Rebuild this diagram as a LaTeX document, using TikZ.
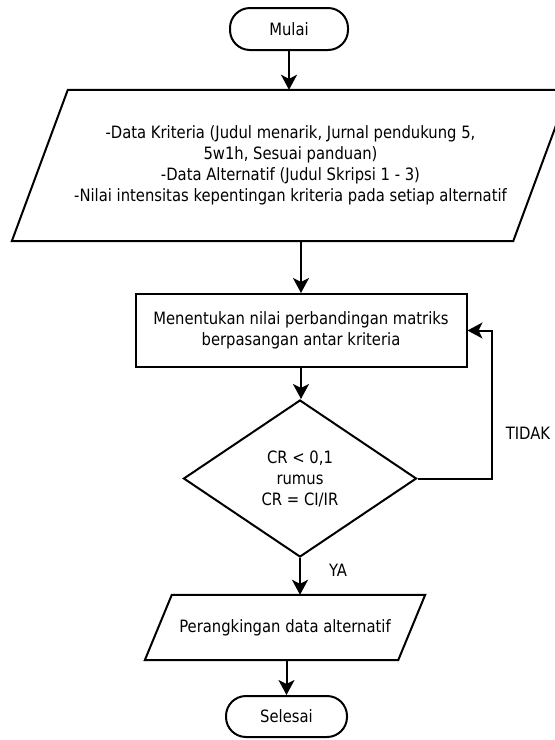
\documentclass[tikz,border=0pt]{standalone}
\usepackage{fontspec}
\setmainfont{DejaVu Sans}[FakeStretch=0.87]
\usetikzlibrary{shapes.geometric,arrows.meta}
\tikzset{
  base/.style={draw=black, line width=2pt, fill=white, font=\fontsize{17}{21}\selectfont, align=center, inner sep=0pt},
  term/.style={base, rectangle, rounded corners=20pt},
  proc/.style={base, rectangle},
  iobox/.style={rectangle, inner sep=0pt, font=\fontsize{17}{21}\selectfont, align=center},
  dec/.style={base, diamond},
  lbl/.style={font=\fontsize{17}{21}\selectfont, inner sep=0pt},
  arr/.style={line width=2pt, -{Stealth[length=15pt,width=16pt,inset=4pt]}},
  ln/.style={line width=2pt, line join=miter}
}
\begin{document}
\begin{tikzpicture}[x=1pt,y=-1pt]
\useasboundingbox (0,0) rectangle (555,740);
\node[term, minimum width=118pt, minimum height=42pt] (mulai) at (289,29) {Mulai};
% input parallelogram 1 (body width 501, slant 56)
\node[iobox, minimum width=501pt, minimum height=151pt] (p1) at (290.5,165.5) {-Data Kriteria (Judul menarik, Jurnal pendukung 5,\\5w1h, Sesuai panduan)\\-Data Alternatif (Judul Skripsi 1 - 3)\\-Nilai intensitas kepentingan kriteria pada setiap alternatif};
\draw[ln] ([xshift=28pt]p1.north west) -- ([xshift=28pt]p1.north east) -- ([xshift=-28pt]p1.south east) -- ([xshift=-28pt]p1.south west) -- cycle;
\node[proc, minimum width=331pt, minimum height=73pt] (proc) at (301,330.5) {Menentukan nilai perbandingan matriks\\berpasangan antar kriteria};
\node[dec, minimum width=233pt, minimum height=157pt] (dia) at (300,478.5) {CR < 0,1\\rumus\\CR = CI/IR};
% input parallelogram 2 (body width 253, slant 27)
\node[iobox, minimum width=253pt, minimum height=65pt] (p2) at (285,627.5) {Perangkingan data alternatif};
\draw[ln] ([xshift=13.5pt]p2.north west) -- ([xshift=13.5pt]p2.north east) -- ([xshift=-13.5pt]p2.south east) -- ([xshift=-13.5pt]p2.south west) -- cycle;
\node[term, minimum width=121pt, minimum height=41pt] (selesai) at (286.5,716.5) {Selesai};
\coordinate (lp) at (492,478.5);
\node[lbl] (tidak) at (528,433) {TIDAK};
\node[lbl] (ya) at (338,570) {YA};
\draw[arr] (mulai.south) -- (mulai.south |- p1.north);
\draw[arr] (proc.north |- p1.south) -- (proc.north);
\draw[arr] (proc.south) -- (proc.south |- dia.north);
\draw[arr] (dia.east) -- (lp) |- (proc.east);
\draw[arr] (dia.south) -- (dia.south |- p2.north);
\draw[arr] (selesai.north |- p2.south) -- (selesai.north);
\end{tikzpicture}
\end{document}
